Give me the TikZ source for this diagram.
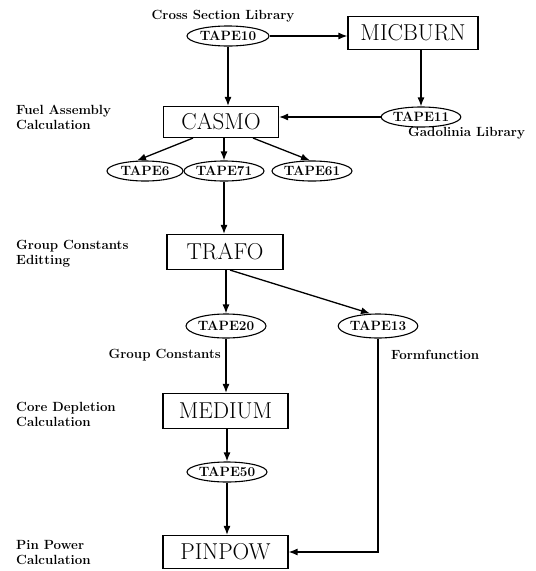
\documentclass[tikz,border=0pt]{standalone}
\usetikzlibrary{shapes.geometric,arrows.meta}
\tikzset{
	prog/.style={draw,line width=1.1pt,minimum height=33pt,inner sep=0pt,font=\fontsize{23}{25}\selectfont},
	tape/.style={draw,ellipse,line width=1.1pt,minimum width=78pt,minimum height=20pt,inner sep=0pt,font=\bfseries\fontsize{13.5}{15}\selectfont},
	arr/.style={line width=1.3pt,-{Latex[length=9pt,width=7pt]}},
	note/.style={align=left,inner sep=0pt,font=\bfseries\fontsize{13.3}{15}\selectfont}
}
\begin{document}
\begin{tikzpicture}[x=1pt,y=-1pt]
	\useasboundingbox (0,0) rectangle (536,571);

	% Programme
	\node[prog,minimum width=130pt] (micburn) at (413,33) {MICBURN};
	\node[prog,minimum width=115pt,minimum height=31pt] (casmo) at (221,122) {CASMO};
	\node[prog,minimum width=116pt,minimum height=35pt] (trafo) at (225,252) {TRAFO};
	\node[prog,minimum width=125pt,minimum height=35pt] (medium) at (225.5,411) {MEDIUM};
	\node[prog,minimum width=125pt] (pinpow) at (225.5,552) {PINPOW};

	% Baender
	\node[tape,minimum width=82pt] (tape10) at (228,36) {TAPE10};
	\node[tape] (tape11) at (421,117) {TAPE11};
	\node[tape,minimum width=76pt] (tape6) at (145,171) {TAPE6};
	\node[tape,minimum width=80pt] (tape71) at (224,171) {TAPE71};
	\node[tape,minimum width=80pt] (tape61) at (312,171) {TAPE61};
	\node[tape,minimum width=80pt,minimum height=24pt] (tape20) at (226,326) {TAPE20};
	\node[tape,minimum height=24pt] (tape13) at (378,326) {TAPE13};
	\node[tape,minimum width=80pt] (tape50) at (227,472) {TAPE50};

	% Beschriftung
	\node[note] (lxs) at (223,16) {Cross Section Library};
	\node[note,anchor=west] (lgd) at (408,133) {Gadolinia Library};
	\node[note,anchor=east] (lgc) at (221,355) {Group Constants};
	\node[note,anchor=west] (lff) at (391,355) {Formfunction};
	\node[note,anchor=west] (lfa) at (16,117) {Fuel Assembly\\Calculation};
	\node[note,anchor=west] (lge) at (16,254) {Group Constants\\Editting};
	\node[note,anchor=west] (lcd) at (16,414) {Core Depletion\\Calculation};
	\node[note,anchor=west] (lpp) at (16,553) {Pin Power\\Calculation};

	% Pfeile
	\draw[arr] (tape10.east) -- (tape10.east -| micburn.west);
	\draw[arr] (tape10) -- (tape10 |- casmo.north);
	\draw[arr] (tape11 |- micburn.south) -- (tape11.north);
	\draw[arr] (tape11.west) -- (tape11.west -| casmo.east);
	\draw[arr] ([xshift=-28pt]casmo.south) -- ([xshift=-8pt]tape6.north);
	\draw[arr] (tape71 |- casmo.south) -- (tape71.north);
	\draw[arr] ([xshift=32pt]casmo.south) -- ([xshift=-2pt]tape61.north);
	\draw[arr] (tape71.south) -- (tape71 |- trafo.north);
	\draw[arr] (tape20 |- trafo.south) -- (tape20.north);
	\draw[arr] ([xshift=5pt]trafo.south) -- ([xshift=-8pt]tape13.north);
	\draw[arr] (tape20.south) -- (tape20 |- medium.north);
	\draw[arr] (tape50 |- medium.south) -- (tape50.north);
	\draw[arr] (tape50.south) -- (tape50 |- pinpow.north);
	\draw[arr] (tape13.south) -- (tape13 |- pinpow.east) -- (pinpow.east);

\end{tikzpicture}
\end{document}
